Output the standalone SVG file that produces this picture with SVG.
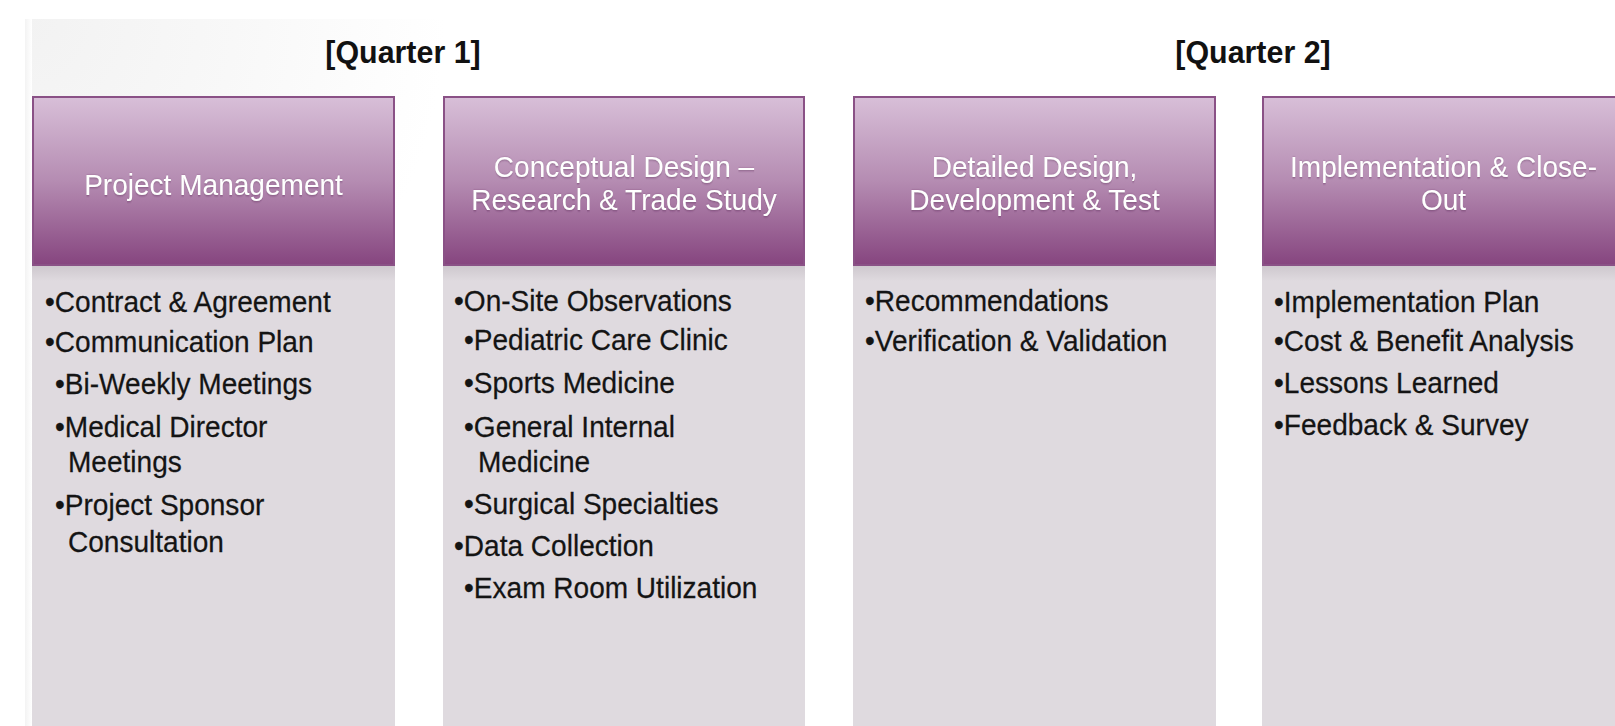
<svg xmlns="http://www.w3.org/2000/svg" width="1615" height="726" viewBox="0 0 1615 726">
  <defs>
    <linearGradient id="headFill" x1="0" y1="0" x2="0" y2="1">
      <stop offset="0" stop-color="#d8bfd8"/>
      <stop offset="0.5" stop-color="#b58cb2"/>
      <stop offset="1" stop-color="#86457f"/>
    </linearGradient>
    <linearGradient id="bodyShade" x1="0" y1="0" x2="0" y2="1">
      <stop offset="0" stop-color="#cdc7cd"/>
      <stop offset="1" stop-color="#dfdadf"/>
    </linearGradient>
    <radialGradient id="pageFade" gradientUnits="userSpaceOnUse" cx="25" cy="19" r="420">
      <stop offset="0" stop-color="#f2f2f2"/>
      <stop offset="0.5" stop-color="#f8f8f8"/>
      <stop offset="1" stop-color="#ffffff"/>
    </radialGradient>
    <linearGradient id="edgeFade" x1="0" y1="0" x2="1" y2="0">
      <stop offset="0" stop-color="#f3f3f3"/>
      <stop offset="1" stop-color="#ffffff"/>
    </linearGradient>
    <filter id="glow" x="-5%" y="-20%" width="110%" height="140%">
      <feDropShadow dx="0" dy="0.6" stdDeviation="0.8" flood-color="#4a1f45" flood-opacity="0.55"/>
    </filter>
  </defs>
  <style>
    .head { fill: url(#headFill); stroke: #8a5186; stroke-width: 2; }
    .body { fill: #dfdadf; }
    .shade { fill: url(#bodyShade); }
    .qtr { font-family: "Liberation Sans", Arial, sans-serif; font-size: 32px; font-weight: bold; fill: #111111; text-anchor: middle; }
    .ttl { font-family: "Liberation Sans", Arial, sans-serif; font-size: 30px; fill: #ffffff; text-anchor: middle; filter: url(#glow); }
    .item { font-family: "Liberation Sans", Arial, sans-serif; font-size: 30px; fill: #141414; stroke: #141414; stroke-width: 0.25px; }
  </style>

  <!-- page backdrop: soft grey corner fading into white -->
  <rect x="0" y="0" width="1615" height="726" fill="#ffffff"/>
  <rect x="25" y="19" width="1590" height="707" fill="url(#pageFade)"/>
  <rect x="25" y="19" width="7" height="707" fill="url(#edgeFade)"/>

  <!-- quarter labels -->
  <g id="quarter-labels">
    <text class="qtr" transform="translate(403,63) scale(0.95,1)">[Quarter 1]</text>
    <text class="qtr" transform="translate(1253,63) scale(0.95,1)">[Quarter 2]</text>
  </g>

  <!-- column 1 -->
  <g id="project-management">
    <rect class="body" x="32" y="265" width="363" height="461"/>
    <rect class="shade" x="32" y="265" width="363" height="16"/>
    <rect class="head" x="33" y="97" width="361" height="168"/>
    <text class="ttl" transform="translate(213.5,195) scale(0.935,1)">Project Management</text>
    <g class="item">
      <text transform="translate(45,312) scale(0.935,1)">•Contract &amp; Agreement</text>
      <text transform="translate(45,352) scale(0.935,1)">•Communication Plan</text>
      <text transform="translate(55,394) scale(0.935,1)">•Bi-Weekly Meetings</text>
      <text transform="translate(55,437) scale(0.935,1)">•Medical Director</text>
      <text transform="translate(68,472) scale(0.935,1)">Meetings</text>
      <text transform="translate(55,515) scale(0.935,1)">•Project Sponsor</text>
      <text transform="translate(68,552) scale(0.935,1)">Consultation</text>
    </g>
  </g>

  <!-- column 2 -->
  <g id="conceptual-design">
    <rect class="body" x="443" y="265" width="362" height="461"/>
    <rect class="shade" x="443" y="265" width="362" height="16"/>
    <rect class="head" x="444" y="97" width="360" height="168"/>
    <text class="ttl" transform="translate(624,177) scale(0.935,1)">Conceptual Design –</text>
    <text class="ttl" transform="translate(624,210) scale(0.935,1)">Research &amp; Trade Study</text>
    <g class="item">
      <text transform="translate(454,311) scale(0.935,1)">•On-Site Observations</text>
      <text transform="translate(464,350) scale(0.935,1)">•Pediatric Care Clinic</text>
      <text transform="translate(464,393) scale(0.935,1)">•Sports Medicine</text>
      <text transform="translate(464,437) scale(0.935,1)">•General Internal</text>
      <text transform="translate(478,472) scale(0.935,1)">Medicine</text>
      <text transform="translate(464,514) scale(0.935,1)">•Surgical Specialties</text>
      <text transform="translate(454,556) scale(0.935,1)">•Data Collection</text>
      <text transform="translate(464,598) scale(0.935,1)">•Exam Room Utilization</text>
    </g>
  </g>

  <!-- column 3 -->
  <g id="detailed-design">
    <rect class="body" x="853" y="265" width="363" height="461"/>
    <rect class="shade" x="853" y="265" width="363" height="16"/>
    <rect class="head" x="854" y="97" width="361" height="168"/>
    <text class="ttl" transform="translate(1034.5,177) scale(0.935,1)">Detailed Design,</text>
    <text class="ttl" transform="translate(1034.5,210) scale(0.935,1)">Development &amp; Test</text>
    <g class="item">
      <text transform="translate(865,311) scale(0.935,1)">•Recommendations</text>
      <text transform="translate(865,351) scale(0.935,1)">•Verification &amp; Validation</text>
    </g>
  </g>

  <!-- column 4 (runs off the right edge) -->
  <g id="implementation">
    <rect class="body" x="1262" y="265" width="363" height="461"/>
    <rect class="shade" x="1262" y="265" width="363" height="16"/>
    <rect class="head" x="1263" y="97" width="361" height="168"/>
    <text class="ttl" transform="translate(1443.5,177) scale(0.935,1)">Implementation &amp; Close-</text>
    <text class="ttl" transform="translate(1443.5,210) scale(0.935,1)">Out</text>
    <g class="item">
      <text transform="translate(1274,312) scale(0.935,1)">•Implementation Plan</text>
      <text transform="translate(1274,351) scale(0.935,1)">•Cost &amp; Benefit Analysis</text>
      <text transform="translate(1274,393) scale(0.935,1)">•Lessons Learned</text>
      <text transform="translate(1274,435) scale(0.935,1)">•Feedback &amp; Survey</text>
    </g>
  </g>

  <!-- no connectors in this layout -->
  <g id="connectors"/>
</svg>
